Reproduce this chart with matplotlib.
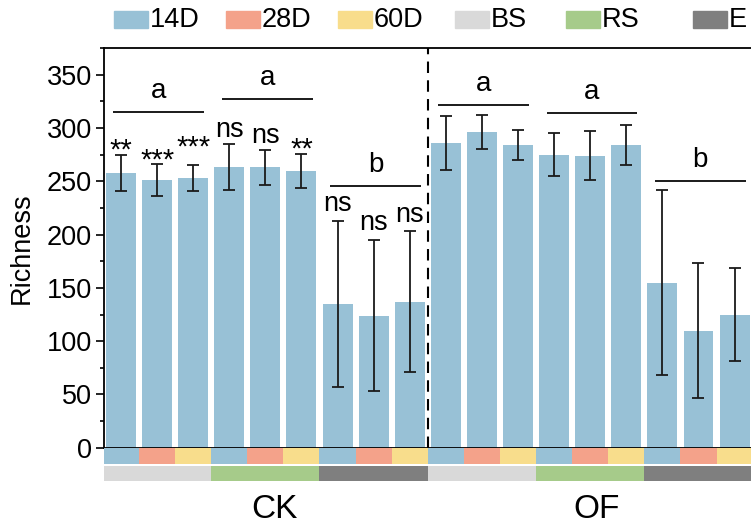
import matplotlib.pyplot as plt
from matplotlib.patches import Rectangle
import numpy as np

plt.rcParams['font.family'] = ['Liberation Sans', 'DejaVu Sans']

# richness values, 18 bars: CK (BS, RS, E) then OF (BS, RS, E), each 14D/28D/60D
richness = [258, 251, 253, 263, 263, 260, 135, 124, 137,
            286, 296, 284, 275, 274, 284, 155, 110, 125]
richness_sd = [17, 15, 12.5, 21.5, 16.5, 16, 78, 71, 66,
               25, 16, 14, 20.5, 23, 19, 87, 63, 44]
sig_labels = ['**', '***', '***', 'ns', 'ns', '**', 'ns', 'ns', 'ns',
              '', '', '', '', '', '', '', '', '']
group_letters = ['a', 'a', 'b', 'a', 'a', 'b']
group_letter_y = [315, 327, 246, 322, 314, 250]
days = ['14D', '28D', '60D']
compartments = ['BS', 'RS', 'E']
treatments = ['CK', 'OF']

day_colors = {'14D': '#98c1d6', '28D': '#f4a28a', '60D': '#f8dd8c'}
comp_colors = {'BS': '#d9d9d9', 'RS': '#a6cb8a', 'E': '#7f7f7f'}

W, H = 751, 528
fig = plt.figure(figsize=(W / 100, H / 100), dpi=100)


def fx(px):
    return px / W


def fy(py):
    return 1 - py / H


ax = fig.add_axes([fx(104), fy(447.8), fx(753 - 104), (447.8 - 48) / H])
x = np.arange(len(richness))
ax.bar(x, richness, width=0.83, color=day_colors['14D'], zorder=1)
ax.errorbar(x, richness, yerr=richness_sd, fmt='none', ecolor='#1a1a1a',
            elinewidth=1.3, capsize=4.5, capthick=1.3, zorder=3)

ax.set_xlim(-0.47, 17.51)
ax.set_ylim(0, 375)
ax.set_yticks(np.arange(0, 351, 50))
ax.set_yticks(np.arange(25, 376, 50), minor=True)
ax.set_xticks([])
ax.tick_params(axis='y', which='major', direction='out', length=5.5, width=1.2,
               labelsize=19.5, pad=3, colors='black')
ax.tick_params(axis='y', which='minor', direction='out', length=3, width=1.2)
ax.set_ylabel('Richness', fontsize=19.5, labelpad=9)
for s in ['left', 'top', 'bottom']:
    ax.spines[s].set_linewidth(1.3)
ax.spines['right'].set_visible(False)

# dashed separator between CK and OF
ax.axvline(8.5, color='black', lw=1.5, ls=(0, (5.5, 3.5)), zorder=4)

# significance marks above error bars
unit = 400 / 375
for i, lab in enumerate(sig_labels):
    if not lab:
        continue
    top = richness[i] + richness_sd[i]
    gap = 7 / unit
    if i >= 6:
        gap = 9.5 / unit
    if i == 2:
        gap = 20 / unit
    if lab.startswith('*'):
        yb = top + gap - 11 / unit
        size = 21
    else:
        yb = top + gap
        size = 19.5
    ax.text(i, yb, lab, ha='center', va='baseline', fontsize=size)

# group letters with lines
for g, (letter, ly) in enumerate(zip(group_letters, group_letter_y)):
    c = 3 * g + 1.05
    ax.plot([c - 1.26, c + 1.26], [ly, ly], color='#1a1a1a', lw=1.4,
            solid_capstyle='butt', zorder=4)
    ax.text(c, ly + 13, letter, ha='center', va='baseline', fontsize=20)

# colour strips under the axis
sax = fig.add_axes([fx(104), fy(481), fx(753 - 104), 33 / H], sharex=ax)
sax.set_ylim(33, 0)
sax.axis('off')
for i in range(len(richness)):
    d = days[i % 3]
    sax.bar(i, 16, bottom=0.3, width=1.0, color=day_colors[d], linewidth=0)
for g in range(6):
    comp = compartments[g % 3]
    sax.bar(3 * g + 1, 15, bottom=18, width=3.0, color=comp_colors[comp],
            linewidth=0)

for t, trt in enumerate(treatments):
    fig.text(fx(274 + 322.7 * t), fy(510), trt, ha='center', va='center',
             fontsize=24)

# legend along the top
legend_items = days + compartments
legend_colors = [day_colors[d] for d in days] + [comp_colors[c] for c in compartments]
patch_x = [114, 226, 338, 455, 566, 693]
for px, lab, col in zip(patch_x, legend_items, legend_colors):
    fig.patches.append(Rectangle((fx(px), fy(28)), fx(34), 17 / H,
                                 transform=fig.transFigure, color=col))
    fig.text(fx(px + 36), fy(20), lab, ha='left', va='center', fontsize=19.5)

fig.savefig('out.png', dpi=100)
